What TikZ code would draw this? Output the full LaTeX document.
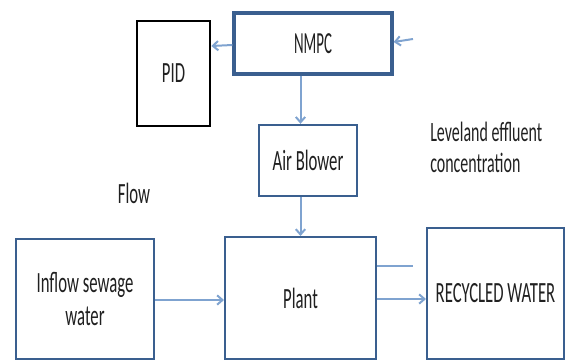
\documentclass[tikz,border=0pt]{standalone}
\usepackage{fontspec}
\setmainfont[FakeStretch=0.57]{Carlito}
\usetikzlibrary{arrows.meta}
\definecolor{boxblue}{HTML}{3A5F8F}
\definecolor{arrblue}{HTML}{7FA3D0}
\definecolor{txt}{HTML}{202020}
\tikzset{
  box/.style={draw=boxblue, line width=1.5pt, fill=white, inner sep=0pt, text=txt, font=\fontsize{22}{26}\selectfont, align=center},
  arr/.style={draw=arrblue, line width=1.5pt, -{Straight Barb[length=4pt,width=7pt]}},
  ln/.style={draw=arrblue, line width=1.5pt},
  lbl/.style={text=txt, inner sep=0pt}
}
\begin{document}
\begin{tikzpicture}[x=0.75pt,y=-0.75pt]
\useasboundingbox (0,0) rectangle (570,361);
\node[box, line width=2.4pt, minimum width=118.5pt, minimum height=45.75pt, font=\fontsize{23}{26}\selectfont] (nmpc) at (313,43.5) {\scalebox{0.85}[1]{NMPC}};
\node[box, draw=black, line width=2pt, minimum width=54.75pt, minimum height=78.75pt] (pid) at (173.5,73.5) {PID};
\node[box, line width=1.8pt, minimum width=73.5pt, minimum height=53.25pt] (ab) at (308,160.5) {Air Blower};
\node[box, minimum width=113.25pt, minimum height=91.5pt] (plant) at (300.5,298) {Plant};
\node[box, minimum width=103.5pt, minimum height=90pt, font=\fontsize{22}{24.75}\selectfont] (inflow) at (85,299) {Inflow sewage\\water};
\node[box, minimum width=102.75pt, minimum height=98.25pt] (rec) at (495.5,293.5) {RECYCLED WATER};
\node[lbl, anchor=west, align=left, font=\fontsize{21}{23.5}\selectfont] (lev) at (430,147.5) {Leveland effluent\\concentration};
\node[lbl] (flow) at (134,193) {\fontsize{22}{24}\selectfont Flow};
\coordinate (ext) at (413,39);
\coordinate (lvl) at (413,266);
\draw[arr] (nmpc.west |- 0,45) -- (pid.east |- 0,46);
\draw[arr] (ext) -- (nmpc.east |- 0,42);
\draw[arr] (nmpc.south -| plant.north) -- (ab.north -| plant.north);
\draw[arr] (ab.south -| plant.north) -- (plant.north);
\draw[arr] (inflow.east |- 0,300) -- (plant.west |- 0,300);
\draw[ln] (plant.east |- lvl) -- (lvl);
\draw[arr] (plant.east |- 0,299) -- (rec.west |- 0,299);
\end{tikzpicture}
\end{document}
